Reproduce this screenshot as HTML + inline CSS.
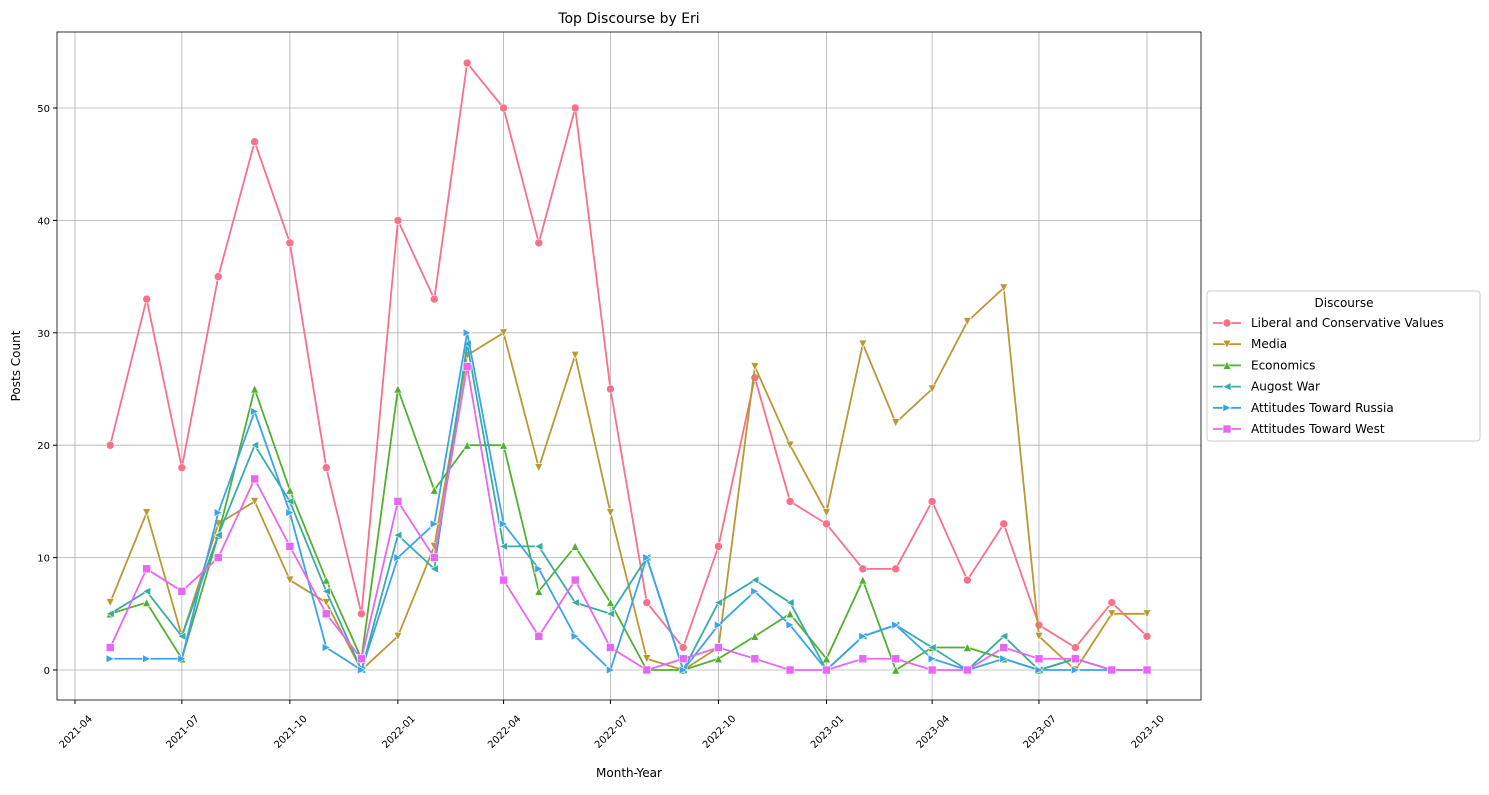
<!DOCTYPE html>
<html><head><meta charset="utf-8"><style>
body{margin:0;background:#fff;font-family:"Liberation Sans","DejaVu Sans",sans-serif;}
svg text{font-family:"DejaVu Sans","Liberation Sans",sans-serif;}
</style></head><body>
<svg id="chart" width="1489" height="790" xmlns="http://www.w3.org/2000/svg">
<rect width="1489" height="790" fill="#fff"/>
<text x="629" y="23" font-size="14" text-anchor="middle">Top Discourse by Eri</text>
<g id="grid"></g><g id="series"></g><g id="axes"></g>
<rect x="57" y="32" width="1144" height="668" fill="none" stroke="#000" stroke-width="0.8"/>
<text x="629" y="777" font-size="12" text-anchor="middle">Month-Year</text>
<text transform="translate(20,366) rotate(-90)" font-size="12" text-anchor="middle">Posts Count</text>
<g id="legend">
<rect x="1207" y="291" width="273" height="150" rx="3" fill="#fff" stroke="#ccc"/>
<text x="1344" y="307" font-size="12" text-anchor="middle">Discourse</text>
</g>
</svg>
<script>
const months = ["2021-05","2021-06","2021-07","2021-08","2021-09","2021-10","2021-11","2021-12","2022-01","2022-02","2022-03","2022-04","2022-05","2022-06","2022-07","2022-08","2022-09","2022-10","2022-11","2022-12","2023-01","2023-02","2023-03","2023-04","2023-05","2023-06","2023-07","2023-08","2023-09","2023-10"];
const seriesNames = ["Liberal and Conservative Values","Media","Economics","Augost War","Attitudes Toward Russia","Attitudes Toward West"];
const liberal = [20,33,18,35,47,38,18,5,40,33,54,50,38,50,25,6,2,11,26,15,13,9,9,15,8,13,4,2,6,3];
const media = [6,14,3,13,15,8,6,0,3,11,28,30,18,28,14,1,0,2,27,20,14,29,22,25,31,34,3,0,5,5];
const economics = [5,6,1,12,25,16,8,1,25,16,20,20,7,11,6,0,0,1,3,5,1,8,0,2,2,1,0,1,0,0];
const augostWar = [5,7,3,12,20,15,7,0,12,9,29,11,11,6,5,10,0,6,8,6,0,3,4,2,0,3,0,1,0,0];
const russia = [1,1,1,14,23,14,2,0,10,13,30,13,9,3,0,10,0,4,7,4,0,3,4,1,0,1,0,0,0,0];
const west = [2,9,7,10,17,11,5,1,15,10,27,8,3,8,2,0,1,2,1,0,0,1,1,0,0,2,1,1,0,0];
const xTicks = ["2021-04","2021-07","2021-10","2022-01","2022-04","2022-07","2022-10","2023-01","2023-04","2023-07","2023-10"];
const yTicks = [0,10,20,30,40,50];

const NS="http://www.w3.org/2000/svg";
const colors=["#f77189","#bb9832","#50b131","#36ada4","#3ba3ec","#e866f4"];
const markers=["o","v","^","<",">","s"];
const allData=[liberal,media,economics,augostWar,russia,west];
const t0=Date.UTC(2021,3,1), t1=Date.UTC(2023,9,1);
function x(m){const [y,mo]=m.split("-").map(Number);return 75+(Date.UTC(y,mo-1,1)-t0)/(t1-t0)*1072;}
function yS(v){return 670-v*11.24;}
function el(tag,attrs,parent){const e=document.createElementNS(NS,tag);for(const k in attrs)e.setAttribute(k,attrs[k]);parent.appendChild(e);return e;}
const grid=document.getElementById("grid"),axes=document.getElementById("axes"),sg=document.getElementById("series"),lg=document.getElementById("legend");
xTicks.forEach(t=>{const px=x(t);
 const l=el("line",{x1:px,x2:px,y1:32,y2:700,stroke:"#b0b0b0","stroke-width":0.8},grid);
 
 
 el("line",{x1:px,x2:px,y1:700,y2:704,stroke:"#000"},axes);
 const tx=el("text",{transform:`translate(${px+3},${734}) rotate(-45)`,"font-size":10,"text-anchor":"middle"},axes);
 tx.textContent=t;
 
 
});
yTicks.forEach(t=>{const py=yS(t);
 const l=el("line",{x1:57,x2:1201,y1:py,y2:py,stroke:"#b0b0b0","stroke-width":0.8},grid);
 
 
 el("line",{x1:53,x2:57,y1:py,y2:py,stroke:"#000"},axes);
 const tx=el("text",{x:50,y:py+4,"font-size":10,"text-anchor":"end"},axes);
 tx.textContent=t;
 
 
});
function marker(type,cx,cy,c,parent){
 const r=4;let e;
 if(type==="o")e=el("circle",{cx,cy,r},parent);
 else if(type==="s")e=el("rect",{x:cx-r,y:cy-r,width:2*r,height:2*r},parent);
 else{let p;
  if(type==="v")p=[[cx-r,cy-r],[cx+r,cy-r],[cx,cy+r]];
  if(type==="^")p=[[cx-r,cy+r],[cx+r,cy+r],[cx,cy-r]];
  if(type==="<")p=[[cx+r,cy-r],[cx+r,cy+r],[cx-r,cy]];
  if(type===">")p=[[cx-r,cy-r],[cx-r,cy+r],[cx+r,cy]];
  e=el("polygon",{points:p.map(a=>a.join(",")).join(" ")},parent);}
 e.setAttribute("fill",c);e.setAttribute("stroke","#fff");e.setAttribute("stroke-width",0.6);
 return e;
}
allData.forEach((d,i)=>{
 const g=el("g",{},sg);
 
 
 el("polyline",{points:d.map((v,j)=>x(months[j])+","+yS(v)).join(" "),fill:"none",stroke:colors[i],"stroke-width":1.8},g);
 d.forEach((v,j)=>{const m=marker(markers[i],x(months[j]),yS(v),colors[i],g);
  
  });
 const ly=323+i*21.2;
 const le=el("g",{},lg);
 
 
 el("line",{x1:1213,x2:1241,y1:ly,y2:ly,stroke:colors[i],"stroke-width":1.8},le);
 marker(markers[i],1227,ly,colors[i],le);
 const t=el("text",{x:1251,y:ly+4,"font-size":12},le);t.textContent=seriesNames[i];
});
</script>
</body></html>
